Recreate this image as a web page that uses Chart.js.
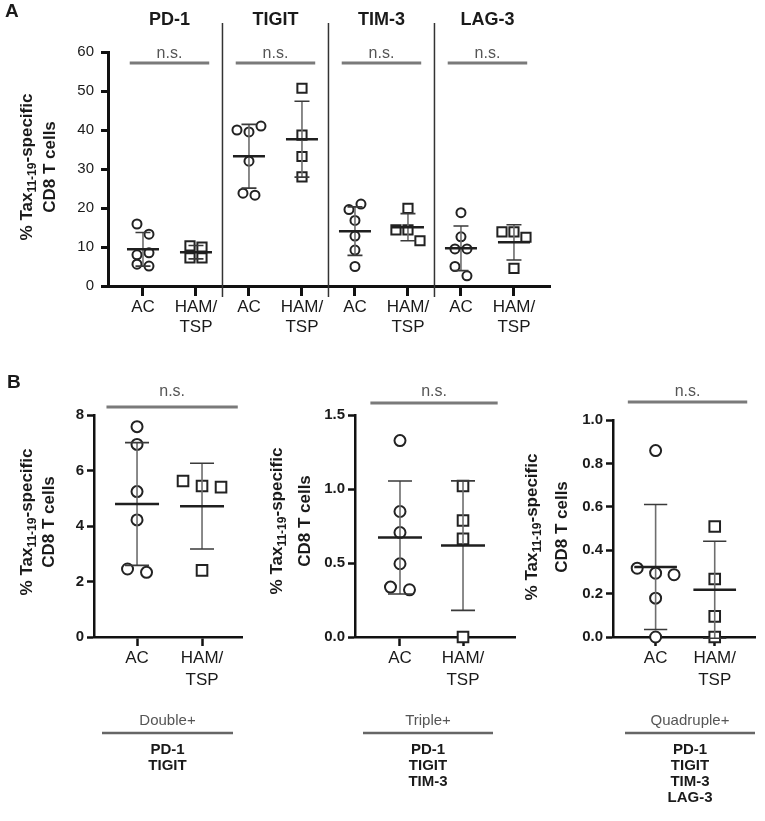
<!DOCTYPE html>
<html>
<head>
<meta charset="utf-8">
<title>Tax11-19-specific CD8 T cells</title>
<script src="https://cdn.jsdelivr.net/npm/chart.js@4.4.1/dist/chart.umd.min.js"></script>
<style>
  html, body { margin: 0; padding: 0; background: #fff; }
  #page { position: relative; width: 765px; height: 821px; overflow: hidden; background: #fff; }
  canvas { position: absolute; }
</style>
</head>
<body>
<div id="page">
  <canvas id="panel-a" width="765" height="345" style="left:0;top:0"></canvas>
  <canvas id="panel-b1" width="255" height="476" style="left:0;top:345px"></canvas>
  <canvas id="panel-b2" width="275" height="476" style="left:250px;top:345px"></canvas>
  <canvas id="panel-b3" width="260" height="476" style="left:505px;top:345px"></canvas>
</div>
<script>
/* --- data --- */
const groupNames = ["AC", ["HAM/", "TSP"]];
const markersA = ["PD-1", "TIGIT", "TIM-3", "LAG-3"];
const ticksA = [0, 10, 20, 30, 40, 50, 60];

// panel A: % of Tax11-19-specific CD8 T cells positive for each marker
const pd1AC = [15.9, 13.3, 8.0, 8.5, 5.6, 5.1];
const pd1HAM = [10.3, 10.0, 7.2, 7.2];
const tigitAC = [40.0, 39.5, 41.0, 32.0, 23.8, 23.3];
const tigitHAM = [50.7, 38.7, 33.2, 28.0];
const tim3AC = [19.6, 21.0, 16.8, 12.8, 9.2, 5.0];
const tim3HAM = [14.4, 19.9, 14.4, 11.6];
const lag3AC = [18.8, 12.6, 9.5, 9.5, 5.0, 2.6];
const lag3HAM = [13.9, 13.9, 12.5, 4.5];

// panel B: co-expression
const doubleAC = [7.58, 6.94, 5.24, 4.22, 2.45, 2.33];
const doubleHAM = [5.62, 5.44, 5.40, 2.40];
const tripleAC = [1.327, 0.848, 0.706, 0.495, 0.337, 0.319];
const tripleHAM = [1.02, 0.787, 0.663, 0.0];
const quadAC = [0.317, 0.859, 0.294, 0.287, 0.179, 0.0];
const quadHAM = [0.509, 0.267, 0.095, 0.0];

const ticksDouble = [0, 2, 4, 6, 8];
const ticksTriple = [0, 0.5, 1.0, 1.5];
const ticksQuad = [0, 0.2, 0.4, 0.6, 0.8, 1.0];

const comboDouble = ["PD-1", "TIGIT"];
const comboTriple = ["PD-1", "TIGIT", "TIM-3"];
const comboQuad = ["PD-1", "TIGIT", "TIM-3", "LAG-3"];

/* --- helpers --- */
const FONT = '"Liberation Sans", Arial, Helvetica, sans-serif';
const INK = "#1a1a1a";
const GREY = "#7a7a7a";
Chart.defaults.font.family = FONT;
Chart.defaults.color = INK;

function mean(v) { return v.reduce((a, b) => a + b, 0) / v.length; }
function sd(v) {
    const m = mean(v);
    return Math.sqrt(v.reduce((a, b) => a + (b - m) * (b - m), 0) / (v.length - 1));
}

// spread points that sit on about the same level, like a column scatter
function swarm(values, center, pxY, pxX, rowPx, stepPx) {
    const order = values.map((v, i) => i).sort((a, b) => values[b] - values[a]);
    const rows = [];
    order.forEach((i) => {
        const row = rows[rows.length - 1];
        if (row && (values[row[0]] - values[i]) * pxY < rowPx) row.push(i);
        else rows.push([i]);
    });
    const xs = [];
    rows.forEach((row) => {
        row.sort((a, b) => a - b);
        row.forEach((i, k) => {
            xs[i] = center + ((k - (row.length - 1) / 2) * stepPx) / pxX;
        });
    });
    return values.map((v, i) => ({ x: xs[i], y: v }));
}

function yTitle(ctx, x1, x2, cy, size) {
    const big = `bold ${size}px ${FONT}`;
    const small = `bold ${Math.round(size * 0.68)}px ${FONT}`;
    const parts = [["% Tax", big, 0], ["11-19", small, size * 0.32], ["-specific", big, 0]];
    ctx.save();
    ctx.fillStyle = INK;
    ctx.textBaseline = "middle";
    ctx.textAlign = "left";
    ctx.translate(x1, cy);
    ctx.rotate(-Math.PI / 2);
    let total = 0;
    parts.forEach((p) => { ctx.font = p[1]; total += ctx.measureText(p[0]).width; });
    let x = -total / 2;
    parts.forEach((p) => {
        ctx.font = p[1];
        ctx.fillText(p[0], x, p[2]);
        x += ctx.measureText(p[0]).width;
    });
    ctx.restore();

    ctx.save();
    ctx.fillStyle = INK;
    ctx.textBaseline = "middle";
    ctx.textAlign = "center";
    ctx.font = big;
    ctx.translate(x2, cy);
    ctx.rotate(-Math.PI / 2);
    ctx.fillText("CD8 T cells", 0, 0);
    ctx.restore();
}

function hline(ctx, x0, x1, y, w, color) {
    ctx.save();
    ctx.strokeStyle = color;
    ctx.lineWidth = w;
    ctx.beginPath();
    ctx.moveTo(x0, y);
    ctx.lineTo(x1, y);
    ctx.stroke();
    ctx.restore();
}

function label(ctx, text, x, y, font, color, align) {
    ctx.save();
    ctx.font = font;
    ctx.fillStyle = color;
    ctx.textAlign = align || "center";
    ctx.textBaseline = "alphabetic";
    ctx.fillText(text, x, y);
    ctx.restore();
}

function makePanel(id, p) {
    const canvas = document.getElementById(id);
    const W = canvas.width, H = canvas.height;
    const a = p.area;
    const yMin = p.yTicks[0], yMax = p.yTicks[p.yTicks.length - 1];
    const pxY = (a.bottom - a.top) / (yMax - yMin);
    const pxX = (a.right - a.left) / (p.xMax - p.xMin);

    const meanPts = [], sdPts = [], capPts = [], acPts = [], hamPts = [];
    const cats = [];
    p.groups.forEach((g, gi) => {
        [g[0], g[1]].forEach((vals, k) => {
            const c = gi * 2 + k + 1;
            cats.push(c);
            const m = mean(vals), s = sd(vals);
            const hw = p.meanHalf / pxX, cw = p.capHalf / pxX;
            meanPts.push({ x: c - hw, y: m }, { x: c + hw, y: m }, { x: c, y: null });
            sdPts.push({ x: c, y: m - s }, { x: c, y: m + s }, { x: c, y: null });
            capPts.push(
                { x: c - cw, y: m + s }, { x: c + cw, y: m + s }, { x: c, y: null },
                { x: c - cw, y: m - s }, { x: c + cw, y: m - s }, { x: c, y: null }
            );
            const pts = swarm(vals, c, pxY, pxX, p.rowPx, p.stepPx);
            (k === 0 ? acPts : hamPts).push(...pts);
        });
    });

    const lineSet = (data, color, width) => ({
        type: "scatter",
        data: data,
        showLine: true,
        spanGaps: false,
        borderColor: color,
        borderWidth: width,
        pointRadius: 0,
        clip: false,
    });

    const overlay = {
        id: "overlay-" + id,
        afterDraw(chart) {
            p.decorate(chart.ctx, chart.scales.x, chart.scales.y);
        },
    };

    return new Chart(canvas, {
        type: "scatter",
        data: {
            datasets: [
                lineSet(meanPts, "#1f1f1f", p.meanWidth),
                lineSet(capPts, "#3a3a3a", 1.6),
                lineSet(sdPts, "#6e6e6e", 1.6),
                {
                    data: acPts,
                    pointStyle: "circle",
                    pointRadius: p.circleR,
                    borderWidth: 2,
                    borderColor: "#222",
                    backgroundColor: "#fff",
                    clip: false,
                },
                {
                    data: hamPts,
                    pointStyle: "rect",
                    pointRadius: p.squareR,
                    borderWidth: 2,
                    borderColor: "#222",
                    backgroundColor: "#fff",
                    clip: false,
                },
            ],
        },
        options: {
            responsive: false,
            animation: false,
            events: [],
            layout: { padding: { left: 0, top: a.top, right: W - a.right, bottom: 0 } },
            plugins: { legend: { display: false }, tooltip: { enabled: false } },
            scales: {
                x: {
                    type: "linear",
                    min: p.xMin,
                    max: p.xMax,
                    afterBuildTicks: (s) => { s.ticks = cats.map((v) => ({ value: v })); },
                    afterFit: (s) => { s.height = H - a.bottom; },
                    ticks: {
                        autoSkip: false,
                        maxRotation: 0,
                        padding: p.xPad,
                        color: INK,
                        font: { size: 17, lineHeight: p.xLine },
                        callback: (v) => groupNames[(Math.round(v) - 1) % 2],
                    },
                    grid: {
                        drawOnChartArea: false,
                        drawTicks: true,
                        tickLength: p.xTick,
                        tickWidth: p.axisWidth,
                        tickColor: "#111",
                    },
                    border: { display: true, width: p.axisWidth, color: "#111" },
                },
                y: {
                    min: yMin,
                    max: yMax,
                    afterBuildTicks: (s) => { s.ticks = p.yTicks.map((v) => ({ value: v })); },
                    afterFit: (s) => { s.width = a.left; },
                    ticks: {
                        autoSkip: false,
                        padding: p.yPad,
                        color: INK,
                        font: { size: 15, weight: p.tickWeight },
                        callback: (v) => v.toFixed(p.decimals),
                    },
                    grid: {
                        drawOnChartArea: false,
                        drawTicks: true,
                        tickLength: 7,
                        tickWidth: p.axisWidth,
                        tickColor: "#111",
                    },
                    border: { display: true, width: p.axisWidth, color: "#111" },
                },
            },
        },
        plugins: [overlay],
    });
}

/* --- panel A --- */
makePanel("panel-a", {
    groups: [[pd1AC, pd1HAM], [tigitAC, tigitHAM], [tim3AC, tim3HAM], [lag3AC, lag3HAM]],
    yTicks: ticksA,
    decimals: 0,
    tickWeight: "normal",
    area: { left: 108, top: 52, right: 550, bottom: 286 },
    xMin: 0.34,
    xMax: 8.68,
    xPad: 2,
    xLine: 1.15,
    xTick: 10,
    yPad: 7,
    axisWidth: 3,
    meanHalf: 16,
    meanWidth: 2.5,
    capHalf: 7.5,
    circleR: 4.5,
    squareR: 6.5,
    rowPx: 11,
    stepPx: 12,
    decorate(ctx, x, y) {
        label(ctx, "A", 5, 17, `bold 19px ${FONT}`, INK, "left");
        [2.5, 4.5, 6.5].forEach((v) => {
            const px = x.getPixelForValue(v);
            ctx.save();
            ctx.strokeStyle = "#333";
            ctx.lineWidth = 1.5;
            ctx.beginPath();
            ctx.moveTo(px, 23);
            ctx.lineTo(px, 297);
            ctx.stroke();
            ctx.restore();
        });
        markersA.forEach((name, i) => {
            const c = 1.5 + 2 * i;
            const cx = x.getPixelForValue(c);
            label(ctx, name, cx, 25, `bold 18px ${FONT}`, INK);
            label(ctx, "n.s.", cx, 58, `16px ${FONT}`, "#555");
            hline(ctx, x.getPixelForValue(c - 0.75), x.getPixelForValue(c + 0.75), 63, 3, GREY);
        });
        yTitle(ctx, 27, 50, 167, 17);
    },
});

/* --- panel B --- */
function panelB(id, ac, ham, ticks, decimals, area, xMin, xMax, nsY, combo, comboName, barX, titleX, titleY, letter) {
    makePanel(id, {
        groups: [[ac, ham]],
        yTicks: ticks,
        decimals: decimals,
        tickWeight: "bold",
        area: area,
        xMin: xMin,
        xMax: xMax,
        xPad: 2,
        xLine: 1.25,
        xTick: 9,
        yPad: 3,
        axisWidth: 2.5,
        meanHalf: 22,
        meanWidth: 2.5,
        capHalf: 12,
        circleR: 5.5,
        squareR: 7.5,
        rowPx: 12,
        stepPx: 19,
        decorate(ctx, x, y) {
            if (letter) label(ctx, letter, 7, 43, `bold 19px ${FONT}`, INK, "left");
            const l0 = x.getPixelForValue(0.53), l1 = x.getPixelForValue(2.55);
            hline(ctx, l0, l1, nsY, 3, GREY);
            label(ctx, "n.s.", (l0 + l1) / 2, 51, `16px ${FONT}`, "#555");
            yTitle(ctx, titleX[0], titleX[1], titleY, 17);
            const mid = (barX[0] + barX[1]) / 2;
            label(ctx, comboName, mid, 380, `15px ${FONT}`, "#555");
            hline(ctx, barX[0], barX[1], 388, 2.5, "#666");
            combo.forEach((m, i) => label(ctx, m, mid, 409 + 16 * i, `bold 15px ${FONT}`, INK));
        },
    });
}

panelB("panel-b1", doubleAC, doubleHAM, ticksDouble, 0,
    { left: 94, top: 70, right: 242, bottom: 292 }, 0.338, 2.615, 62,
    comboDouble, "Double+", [102, 233], [27, 49], 177, "B");
panelB("panel-b2", tripleAC, tripleHAM, ticksTriple, 1,
    { left: 105, top: 70, right: 265, bottom: 292 }, 0.286, 2.825, 58,
    comboTriple, "Triple+", [113, 243], [27, 55], 176, "");
panelB("panel-b3", quadAC, quadHAM, ticksQuad, 1,
    { left: 108, top: 75, right: 255, bottom: 292 }, 0.279, 2.69, 57,
    comboQuad, "Quadruple+", [120, 250], [27, 57], 182, "");
</script>
</body>
</html>
